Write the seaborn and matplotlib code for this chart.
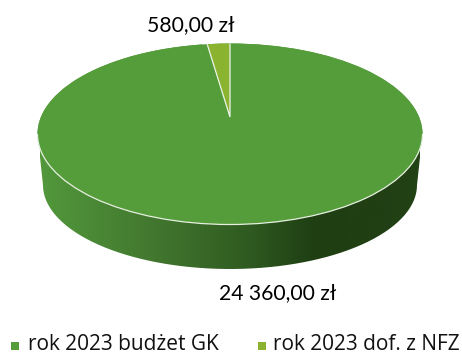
import numpy as np
import matplotlib
matplotlib.use("Agg")
import matplotlib.pyplot as plt
from matplotlib.colors import LinearSegmentedColormap
from matplotlib.path import Path
from matplotlib.patches import PathPatch, Ellipse, Arc
import seaborn as sns

categories = ["rok 2023 budżet GK", "rok 2023 dof. z NFZ"]
values = [24360.0, 580.0]
colors = ["#559c3b", "#8ab42f"]

sns.set_theme(style="white")
W, H = 462, 354
fig = plt.figure(figsize=(W / 100, H / 100), dpi=100)
ax = fig.add_axes([0, 0, 1, 1])

# pixel geometry of the tilted disc
cx, cy, rx, ry = 230.0, 134.0, 192.5, 90.5
apex_y = 117.0
bx, by, brx, bry = 230.0, 185.0, 187.0, 84.0

def X(p):
    return (p - cx) / rx
def Y(p):
    return (cy - p) / ry

# side wall of the disc with its horizontal shading
t = np.linspace(np.pi, 2 * np.pi, 200)
lower_x = X(bx + brx * np.cos(t))
lower_y = Y(by - bry * np.sin(t))
wall = np.column_stack([
    np.r_[X(cx - rx), lower_x, X(cx + rx), X(cx - rx)],
    np.r_[Y(cy), lower_y, Y(cy), Y(cy)],
])
cmap = LinearSegmentedColormap.from_list(
    "wall",
    [(0, "#52983b"), (0.3, "#42772f"), (0.55, "#2f5a20"),
     (0.72, "#1f3f13"), (0.9, "#213f14"), (1, "#224315")],
)
im = ax.imshow(np.linspace(0, 1, 256)[None, :], cmap=cmap, aspect="auto",
               extent=[X(40), X(420), Y(280), Y(130)], zorder=1)
clip = PathPatch(Path(wall), transform=ax.transData, fc="none", ec="none")
ax.add_patch(clip)
im.set_clip_path(clip)

# top face drawn by the library's pie
wedges, _ = ax.pie(values, colors=colors, startangle=90, counterclock=False,
                   center=(0, 0), radius=1.0,
                   wedgeprops=dict(edgecolor="#eef3ea", linewidth=0.9))
wedges[0].set_linewidth(0)
wedges[0].set_zorder(2)
ax.set_aspect("auto")

face = Ellipse((0, 0), 2, 2, transform=ax.transData, fc=colors[0],
               ec="none", zorder=3, clip_on=False)
ax.add_patch(face)
# light rim only along the front of the face
rim = Arc((0, 0), 2, 2, theta1=180, theta2=360, color="#e6efe0", lw=0.9,
          zorder=3.5, clip_on=False)
ax.add_patch(rim)

# the small slice has its apex above the disc centre; keep it inside the face
small = wedges[1]
small.set_center((0, Y(apex_y)))
small.set_zorder(4)
small.set_clip_on(True)
small.set_clip_path(face)

ax.set_xlim(X(0), X(W))
ax.set_ylim(Y(H), Y(0))
ax.axis("off")

def money(v):
    return f"{v:,.2f}".replace(",", " ").replace(".", ",") + " zł"

label_font = ["Lato", "DejaVu Sans"]
legend_font = ["Open Sans", "DejaVu Sans"]
ax.text(X(277.5), Y(293), money(values[0]), ha="center", va="center",
        fontsize=15.2, family=label_font, color="#000000")
ax.text(X(190.5), Y(25), money(values[1]), ha="center", va="center",
        fontsize=15.2, family=label_font, color="#000000")

# legend
legend_y = 346
for name, color, mx, tx in zip(categories, colors, [14.5, 262], [28, 273]):
    ax.scatter([X(mx)], [Y(legend_y)], marker="s", s=33, color=color,
               linewidths=0, zorder=5, clip_on=False)
    ax.text(X(tx), Y(legend_y - 2), name, ha="left", va="center",
            fontsize=15, family=legend_font, color="#111111")

fig.savefig("out.png", dpi=100, facecolor="white")
